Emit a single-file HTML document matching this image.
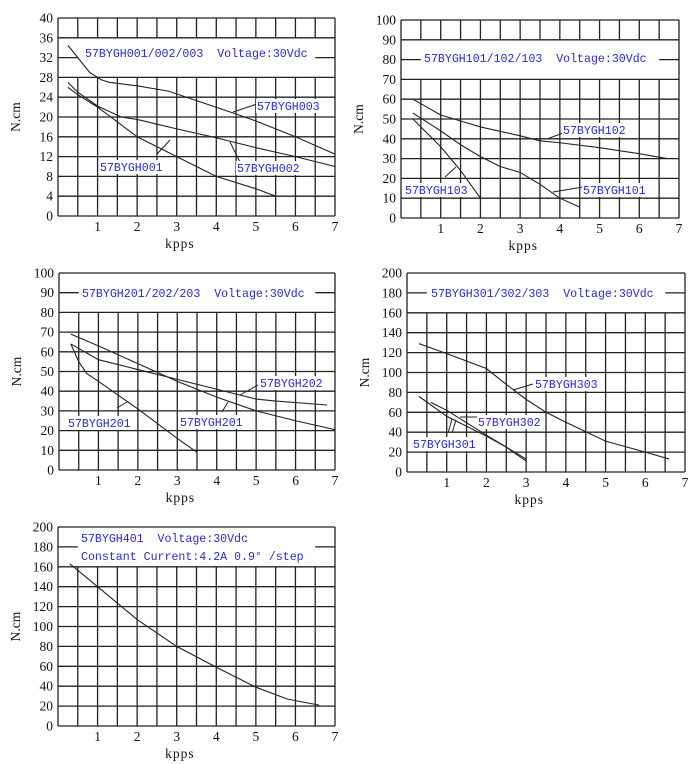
<!DOCTYPE html>
<html><head><meta charset="utf-8"><style>
html,body{margin:0;padding:0;background:#fff;width:700px;height:764px;overflow:hidden}
svg{display:block}
.t{font-family:"Liberation Serif",serif;font-size:13.5px;fill:#111}
.l{font-family:"Liberation Mono",monospace;font-size:11.6px;fill:#2828e0}
</style></head><body>
<svg id="s" width="700" height="764" xmlns="http://www.w3.org/2000/svg">
<g id="g"></g>
</svg>
<script>
var out='';
function chart(c){
  var L=c.L,T=c.T,R=c.R,B=c.B,W=R-L,H=B-T;
  var ymax=c.ymax, nrows=10;
  function X(v){return L+v/7*W}
  function Y(v){return B-v/ymax*H}
  var bx0=X(0.5),bx1=X(6.5),by0=Y(c.box[0]),by1=Y(c.box[1]);
  for(var i=0;i<=14;i++){
    var x=X(i*0.5);
    if(i>=1&&i<=13){
      out+='<line x1="'+x+'" y1="'+T+'" x2="'+x+'" y2="'+by0+'" stroke="#222" stroke-width="1.3"/>';
      out+='<line x1="'+x+'" y1="'+by1+'" x2="'+x+'" y2="'+B+'" stroke="#222" stroke-width="1.3"/>';
    } else out+='<line x1="'+x+'" y1="'+T+'" x2="'+x+'" y2="'+B+'" stroke="#222" stroke-width="1.3"/>';
  }
  for(var j=0;j<=nrows;j++){
    var v=ymax*j/nrows,y=Y(v);
    if(y>by0+0.5&&y<by1-0.5){
      out+='<line x1="'+L+'" y1="'+y+'" x2="'+bx0+'" y2="'+y+'" stroke="#222" stroke-width="1.3"/>';
      out+='<line x1="'+bx1+'" y1="'+y+'" x2="'+R+'" y2="'+y+'" stroke="#222" stroke-width="1.3"/>';
    } else out+='<line x1="'+L+'" y1="'+y+'" x2="'+R+'" y2="'+y+'" stroke="#222" stroke-width="1.3"/>';
    out+='<text class="t" x="'+(L-5)+'" y="'+(y+4.5)+'" text-anchor="end">'+v+'</text>';
  }
  for(var k=1;k<=7;k++){
    out+='<text class="t" x="'+X(k)+'" y="'+(B+15)+'" text-anchor="middle">'+k+'</text>';
  }
  out+='<text class="t" x="'+(L+W*0.44)+'" y="'+(B+32)+'" text-anchor="middle" letter-spacing="1">kpps</text>';
  var my=(T+B)/2;
  out+='<text class="t" transform="translate('+(L-38)+','+my+') rotate(-90)" text-anchor="middle">N.cm</text>';
  c.curves.forEach(function(p){
    out+='<polyline fill="none" stroke="#222" stroke-width="1.1" points="'+p.map(function(q){return X(q[0])+','+Y(q[1])}).join(' ')+'"/>';
  });
  c.leaders.forEach(function(s){
    out+='<line x1="'+s[0]+'" y1="'+s[1]+'" x2="'+s[2]+'" y2="'+s[3]+'" stroke="#222" stroke-width="1"/>';
  });
  c.labels.forEach(function(s,idx){
    if(!s[3]) out+='<rect x="'+(s[0]-1)+'" y="'+(s[1]-11)+'" width="'+(s[2].length*7+2)+'" height="14" fill="#fff"/>';
    out+='<text class="l" x="'+s[0]+'" y="'+s[1]+'" xml:space="preserve">'+s[2]+'</text>';
  });
}
chart({L:58,T:18,R:335,B:216,ymax:40,box:[36,28],
 curves:[
  [[0.25,34.5],[0.5,32],[0.8,29],[1.1,27.5],[1.3,27],[2,26.3],[2.8,25.2],[3.5,23.3],[4.5,20.6],[5,19.2],[6,16],[7,12.5]],
  [[0.25,27],[0.5,25],[1,22.2],[1.6,20],[2,19.5],[3,17.6],[4,15.8],[4.3,15.2],[5,13.8],[6,12],[7,10]],
  [[0.25,26],[0.5,24.5],[1,22],[1.5,19],[2,16],[3,12],[4,8],[5,5.5],[5.5,4]]],
 leaders:[[233,112,257,104],[157,154,170,140],[230,142,240,162]],
 labels:[[85,57,'57BYGH001/002/003  Voltage:30Vdc',1],[257,110,'57BYGH003'],[100,171,'57BYGH001'],[237,172,'57BYGH002']]});
chart({L:401,T:20,R:679,B:218,ymax:100,box:[90,70],
 curves:[
  [[0.3,60],[1,52],[1.5,49],[2,46],[3,41.5],[3.5,39],[4,38],[5,35.5],[6,32.5],[6.7,30]],
  [[0.3,53],[1,44],[1.5,37],[2,31],[2.5,26],[3,23],[3.5,17],[4,10],[4.5,5.5]],
  [[0.3,50],[1,36],[1.5,24],[2,10]]],
 leaders:[[547,139,563,133],[553,192,583,187],[445,177,456,167]],
 labels:[[424,62,'57BYGH101/102/103  Voltage:30Vdc',1],[563,134,'57BYGH102'],[583,194,'57BYGH101'],[405,194,'57BYGH103']]});
chart({L:59,T:273,R:335,B:470,ymax:100,box:[100,80],
 curves:[
  [[0.3,69],[1,63],[2,54],[3,45],[4,37],[5,30],[6,25],[7,20.5]],
  [[0.3,64],[1,56],[2,51],[3,46],[4,41],[5,36],[5.5,35],[6.8,33]],
  [[0.3,64],[0.5,55],[0.7,49],[1,45],[2,31],[3,16],[3.5,9]]],
 leaders:[[240,395,258,385],[222,412,228,402],[117,408,127,402]],
 labels:[[82,297,'57BYGH201/202/203  Voltage:30Vdc',1],[260,387,'57BYGH202'],[180,426,'57BYGH201'],[68,427,'57BYGH201']]});
chart({L:407,T:273,R:685,B:472,ymax:200,box:[200,160],
 curves:[
  [[0.3,129],[1,119],[2,104],[2.5,88],[3,73],[3.5,60],[4,50],[5,31],[6,20],[6.6,13]],
  [[0.6,70],[1,62],[2,37],[3,13]],
  [[0.3,76],[1,56],[2,36],[2.5,25],[3,11]]],
 leaders:[[513,390,533,384],[460,417,477,417],[448,433,452,419],[452,433,456,420]],
 labels:[[431,297,'57BYGH301/302/303  Voltage:30Vdc',1],[535,388,'57BYGH303'],[478,426,'57BYGH302'],[413,448,'57BYGH301']]});
chart({L:58,T:527,R:335,B:726,ymax:200,box:[200,160],
 curves:[[[0.3,163],[1,140],[2,107],[3,80],[4,59],[5,39],[5.8,27],[6.6,21]]],
 leaders:[],
 labels:[[81,542,'57BYGH401  Voltage:30Vdc',1],[81,560,'Constant Current:4.2A 0.9° /step',1]]});
document.getElementById('g').innerHTML=out;
</script>
</body></html>
